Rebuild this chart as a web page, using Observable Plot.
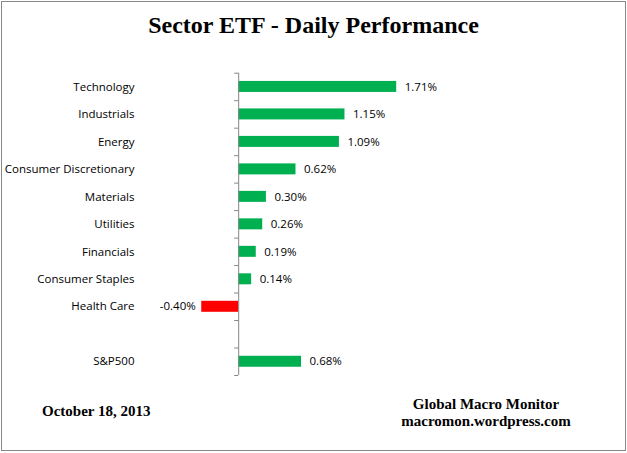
<!DOCTYPE html>
<html>
<head>
<meta charset="utf-8">
<script src="https://cdn.jsdelivr.net/npm/d3@7"></script>
<script src="https://cdn.jsdelivr.net/npm/@observablehq/plot@0.6"></script>
<style>
  html, body { margin: 0; padding: 0; background: #fff; }
  #wrap { position: relative; width: 627px; height: 453px; overflow: hidden; }
  #wrap svg { position: absolute; left: 0; top: 0; }
  .border { position: absolute; left: 1px; top: 1px; width: 623px; height: 448px; border: 1px solid #888; box-sizing: content-box; }
  .t { position: absolute; font-family: "Liberation Serif", "Times New Roman", serif; font-weight: bold; color: #000; white-space: nowrap; }
  #title { left: 0; width: 627px; text-align: center; top: 10px; font-size: 24px; line-height: 30px; }
  #date { left: 42px; top: 402px; font-size: 15px; line-height: 19px; }
  #src { left: 386px; width: 200px; text-align: center; top: 396px; font-size: 15px; line-height: 17px; }
</style>
</head>
<body>
<div id="wrap">
  <div class="border"></div>
  <div class="t" id="title">Sector ETF - Daily Performance</div>
  <div class="t" id="date">October 18, 2013</div>
  <div class="t" id="src">Global Macro Monitor<br>macromon.wordpress.com</div>
</div>
<script>
const categories = ["Technology", "Industrials", "Energy", "Consumer Discretionary", "Materials", "Utilities", "Financials", "Consumer Staples", "Health Care", "", "S&P500"];
const values = [1.71, 1.15, 1.09, 0.62, 0.30, 0.26, 0.19, 0.14, -0.40, null, 0.68];
const axisTicks = d3.range(0, categories.length + 1);

const rows = categories.map((name, i) => ({name, value: values[i], slot: i}));
const bars = rows.filter(d => d.value != null);

const fmt = v => v.toFixed(2) + "%";
const labelFont = "'Open Sans', 'Liberation Sans', sans-serif";

const chart = Plot.plot({
  width: 627,
  height: 453,
  marginTop: 72.7,
  marginBottom: 78,
  marginLeft: 192,
  marginRight: 204,
  x: {domain: [-0.5, 2.0], axis: null},
  y: {domain: [0, categories.length], reverse: true, axis: null},
  style: {background: "transparent", fontFamily: labelFont, fontSize: "11.5px", color: "#000"},
  marks: [
    Plot.rect(bars, {
      x1: 0, x2: "value",
      y1: d => d.slot + 0.3, y2: d => d.slot + 0.7,
      fill: d => d.value < 0 ? "#FF0000" : "#00B050"
    }),
    Plot.ruleX([0], {y1: 0, y2: categories.length, stroke: "#868686", strokeWidth: 1}),
    Plot.ruleY(axisTicks, {y: d => d, x1: 0, x2: 0, insetLeft: -4, stroke: "#868686", strokeWidth: 1}),
    Plot.text(rows.filter(d => d.name !== ""), {
      y: d => d.slot + 0.5, text: "name",
      frameAnchor: "left", dx: -58, textAnchor: "end", fill: "#000"
    }),
    Plot.text(bars.filter(d => d.value >= 0), {
      x: "value", y: d => d.slot + 0.5, text: d => fmt(d.value),
      textAnchor: "start", dx: 8, fill: "#000"
    }),
    Plot.text(bars.filter(d => d.value < 0), {
      x: "value", y: d => d.slot + 0.5, text: d => fmt(d.value),
      textAnchor: "end", dx: -6, fill: "#000"
    })
  ]
});
document.getElementById("wrap").appendChild(chart);
</script>
</body>
</html>
